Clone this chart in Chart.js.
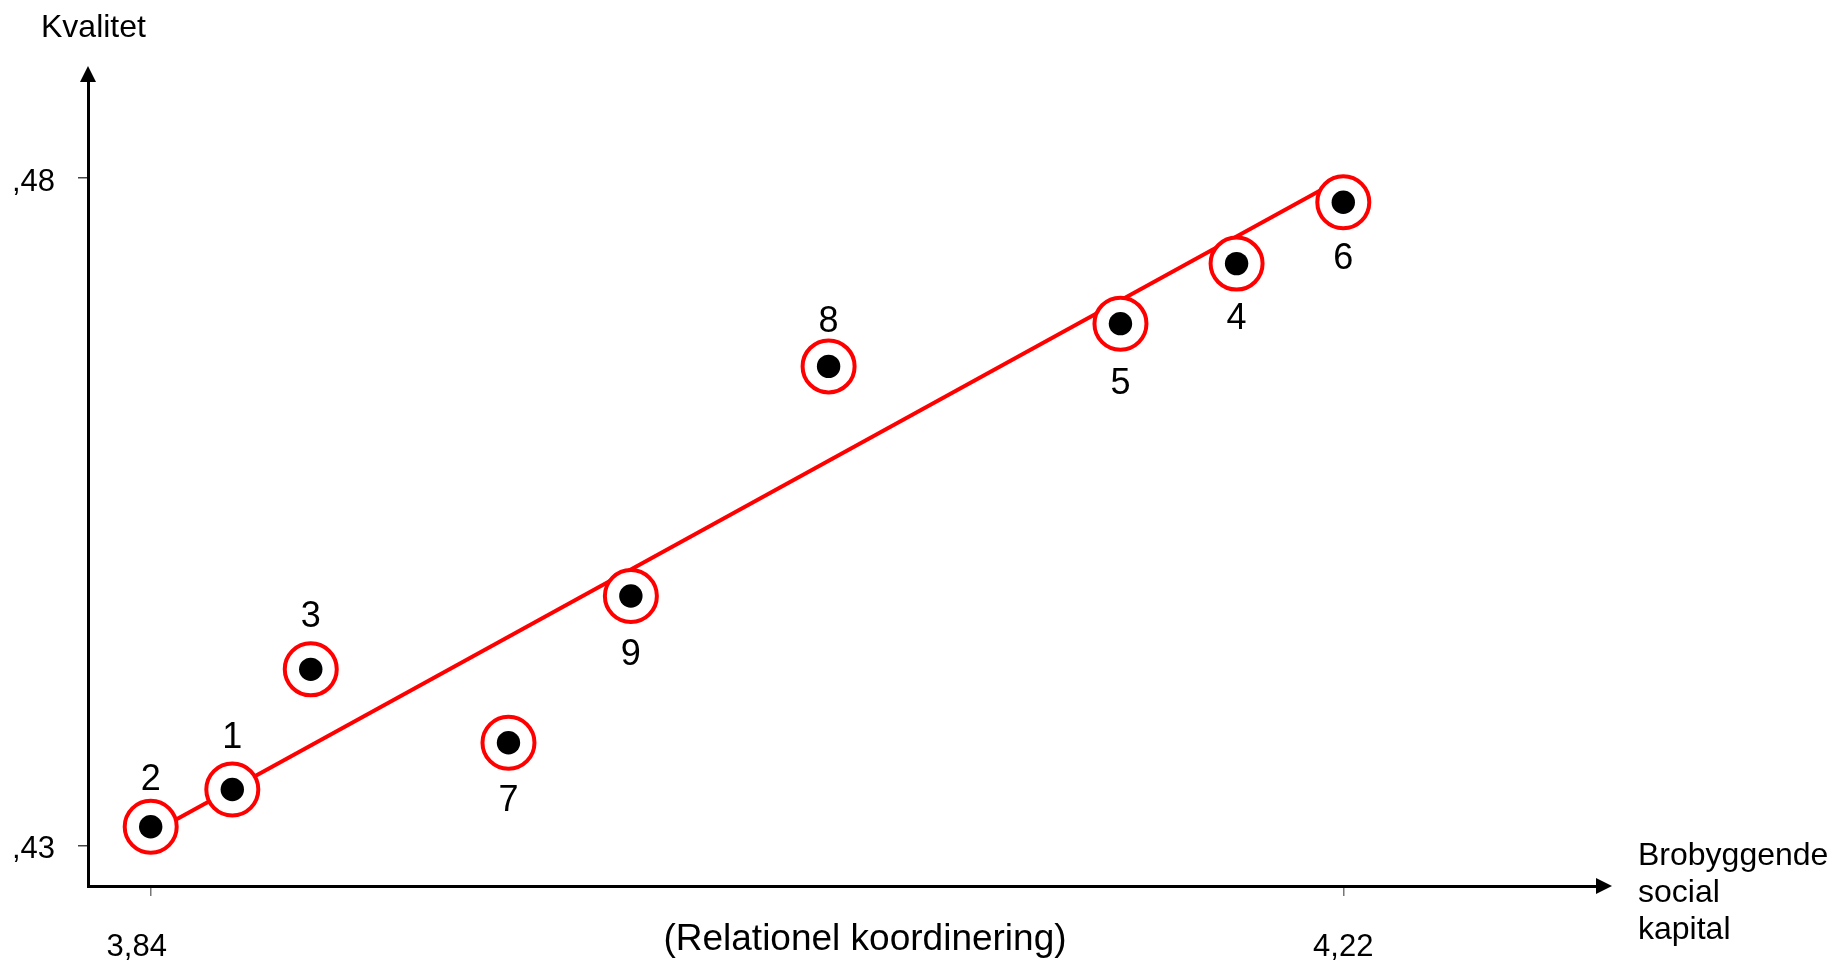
<!DOCTYPE html>
<html>
<head>
<meta charset="utf-8">
<script src="https://cdn.jsdelivr.net/npm/chart.js@4.4.0/dist/chart.umd.min.js"></script>
<style>
  html, body { margin: 0; padding: 0; background: #fff; }
  #wrap { width: 1833px; height: 960px; position: relative; }
</style>
</head>
<body>
<div id="wrap"><canvas id="c"></canvas></div>
<script>
// ---- Data ----
const pointLabels = ['1', '2', '3', '4', '5', '6', '7', '8', '9'];
const xValues = [3.866, 3.840, 3.891, 4.186, 4.149, 4.220, 3.954, 4.056, 3.993];
const yValues = [0.4342, 0.4314, 0.4432, 0.4736, 0.4691, 0.4782, 0.4377, 0.4659, 0.4487];
const fitLineX = [3.84, 4.2167];
const fitLineY = [0.4309, 0.4796];
const xTicks = [3.84, 4.22];
const xTickLabels = ['3,84', '4,22'];
const yTicks = [0.43, 0.48];
const yTickLabels = [',43', ',48'];
const xAxisName = ['Brobyggende', 'social', 'kapital'];
const yAxisName = 'Kvalitet';
const xAxisSub = '(Relationel koordinering)';
const xRange = [3.82002, 4.3018];
const yRange = [0.426965, 0.487733];

// ---- Styling / placement (not data) ----
const FONT = '"Liberation Sans", Arial, sans-serif';
const xTickLabelShift = [-14, 0];
const labelDy = [-51, -47, -52, 55, 60, 57, 58, -44, 59];

const points = xValues.map((x, i) => ({ x, y: yValues[i] }));
const fitLine = fitLineX.map((x, i) => ({ x, y: fitLineY[i] }));

const decorPlugin = {
  id: 'decor',
  afterDraw(chart) {
    const { ctx, chartArea: a } = chart;
    const xs = chart.scales.x;
    ctx.save();
    ctx.fillStyle = '#000';
    // Y axis arrowhead
    ctx.beginPath();
    ctx.moveTo(a.left, a.top - 9);
    ctx.lineTo(a.left - 8, a.top + 7);
    ctx.lineTo(a.left + 8, a.top + 7);
    ctx.closePath();
    ctx.fill();
    // X axis arrowhead
    ctx.beginPath();
    ctx.moveTo(a.right + 12, a.bottom);
    ctx.lineTo(a.right - 4, a.bottom - 8);
    ctx.lineTo(a.right - 4, a.bottom + 8);
    ctx.closePath();
    ctx.fill();

    // X tick labels (placed from the library's scale)
    ctx.font = '31px ' + FONT;
    ctx.textAlign = 'center';
    ctx.textBaseline = 'alphabetic';
    xTicks.forEach((v, i) => {
      ctx.fillText(xTickLabels[i], xs.getPixelForValue(v) + xTickLabelShift[i], 956);
    });

    // Axis names
    ctx.font = '32px ' + FONT;
    ctx.textAlign = 'left';
    ctx.fillText(yAxisName, 41, 37);
    xAxisName.forEach((t, i) => ctx.fillText(t, a.right + 38, 865 + i * 37));
    ctx.font = '37px ' + FONT;
    ctx.textAlign = 'center';
    ctx.fillText(xAxisSub, 865, 950);

    // Point labels
    const meta = chart.getDatasetMeta(2);
    ctx.font = '36px ' + FONT;
    ctx.textAlign = 'center';
    ctx.textBaseline = 'middle';
    meta.data.forEach((el, i) => {
      ctx.fillText(pointLabels[i], el.x, el.y + labelDy[i]);
    });
    ctx.restore();
  }
};

new Chart(document.getElementById('c'), {
  type: 'scatter',
  data: {
    datasets: [
      {
        type: 'line',
        data: fitLine,
        borderColor: '#ff0000',
        borderWidth: 4,
        pointRadius: 0,
        fill: false,
        order: 3
      },
      {
        data: points,
        pointRadius: 26,
        pointBackgroundColor: '#ffffff',
        pointBorderColor: '#ff0000',
        pointBorderWidth: 4,
        order: 2
      },
      {
        data: points,
        pointRadius: 11.7,
        pointBackgroundColor: '#000000',
        pointBorderWidth: 0,
        order: 1
      }
    ]
  },
  options: {
    responsive: true,
    maintainAspectRatio: false,
    animation: false,
    clip: false,
    layout: { padding: { left: 0, right: 233, top: 75, bottom: 0 } },
    plugins: { legend: { display: false }, tooltip: { enabled: false } },
    scales: {
      x: {
        type: 'linear',
        position: 'bottom',
        min: xRange[0],
        max: xRange[1],
        afterBuildTicks: (s) => { s.ticks = xTicks.map(v => ({ value: v })); },
        afterFit: (s) => { s.height = 74; },
        border: { display: true, color: '#000', width: 3 },
        grid: { display: true, drawOnChartArea: false, drawTicks: true, tickLength: 10, color: '#777', lineWidth: 1.5 },
        ticks: { display: false }
      },
      y: {
        type: 'linear',
        position: 'left',
        min: yRange[0],
        max: yRange[1],
        afterBuildTicks: (s) => { s.ticks = yTicks.map(v => ({ value: v })); },
        afterFit: (s) => { s.width = 88; },
        border: { display: true, color: '#000', width: 3 },
        grid: { display: true, drawOnChartArea: false, drawTicks: true, tickLength: 10, color: '#444', lineWidth: 1.5 },
        ticks: {
          color: '#000',
          font: { family: FONT, size: 31 },
          padding: 23,
          labelOffset: 4,
          autoSkip: false,
          callback: (v) => yTickLabels[yTicks.indexOf(v)] ?? ''
        }
      }
    }
  },
  plugins: [decorPlugin]
});
</script>
</body>
</html>
